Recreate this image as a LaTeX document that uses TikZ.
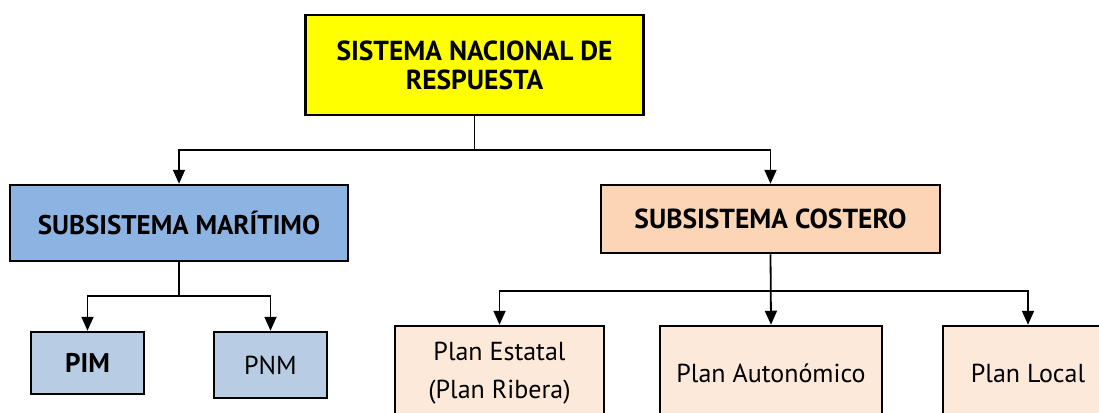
\documentclass[tikz,border=0pt]{standalone}
\usepackage{fontspec}
\setmainfont{PT Sans}
\usetikzlibrary{arrows.meta, positioning}
\usepackage{xcolor}
\definecolor{amarillo}{HTML}{FFFF00}
\definecolor{azul}{HTML}{8DB3E2}
\definecolor{azulclaro}{HTML}{B8CCE4}
\definecolor{salmon}{HTML}{FBD5B5}
\definecolor{salmonclaro}{HTML}{FDE9D9}

\begin{document}
\begin{tikzpicture}[x=1pt, y=-1pt, >={Triangle[width=12pt,length=14pt]}]
				\tikzstyle{caja} = [draw=black, line width=2.5pt, rectangle, inner sep=0pt, align=center]
				\tikzstyle{conector} = [line width=1.8pt]
				\useasboundingbox (0,0) rectangle (1099,412);
				\clip (0,0) rectangle (1099,412);
				
				\node[caja, fill=amarillo, minimum width=338pt, minimum height=100pt, font=\fontsize{27.5}{29}\selectfont\bfseries]
					at (474.5,65)	(sn)	{SISTEMA NACIONAL DE\\RESPUESTA};
				\node[caja, fill=azul, minimum width=338pt, minimum height=76pt, font=\fontsize{27}{29}\selectfont\bfseries]
					at (179,223)	(mar)	{SUBSISTEMA MARÍTIMO};
				\node[caja, fill=salmon, minimum width=339pt, minimum height=68pt, font=\fontsize{27.5}{29}\selectfont\bfseries]
					at (770.5,219)	(cos)	{SUBSISTEMA COSTERO};
				\node[caja, fill=azulclaro, minimum width=113pt, minimum height=62pt, font=\fontsize{27}{29}\selectfont\bfseries]
					at (87.5,363)	(pim)	{PIM};
				\node[caja, fill=azulclaro, minimum width=113pt, minimum height=66pt, font=\fontsize{26}{28}\selectfont]
					at (270.5,365)	(pnm)	{PNM};
				\node[caja, fill=salmonclaro, minimum width=209pt, minimum height=94pt, font=\fontsize{26}{38}\selectfont]
					at (499.5,373)	(est)	{Plan Estatal\\(Plan Ribera)};
				\node[caja, fill=salmonclaro, minimum width=222pt, minimum height=94pt, font=\fontsize{26}{28}\selectfont]
					at (771,373)	(aut)	{Plan Autonómico};
				\node[caja, fill=salmonclaro, minimum width=170pt, minimum height=94pt, font=\fontsize{26}{28}\selectfont]
					at (1028,373)	(loc)	{Plan Local};
				
				% puntos de reparto
				\coordinate (j0) at (474.5,150);
				\coordinate (j1) at (179,296);
				\coordinate (j2) at (770.5,291);
				
				\draw[conector] (sn.south) -- (j0);
				\draw[conector, ->] (j0) -| (mar.north);
				\draw[conector, ->] (j0) -| (cos.north);
				\draw[conector] (mar.south) -- (j1);
				\draw[conector, ->] (j1) -| (pim.north);
				\draw[conector, ->] (j1) -| (pnm.north);
				\draw[conector, ->] (cos.south) -- (aut.north);
				\draw[conector, ->] (j2) -| (est.north);
				\draw[conector, ->] (j2) -| (loc.north);
			\end{tikzpicture}
\end{document}
